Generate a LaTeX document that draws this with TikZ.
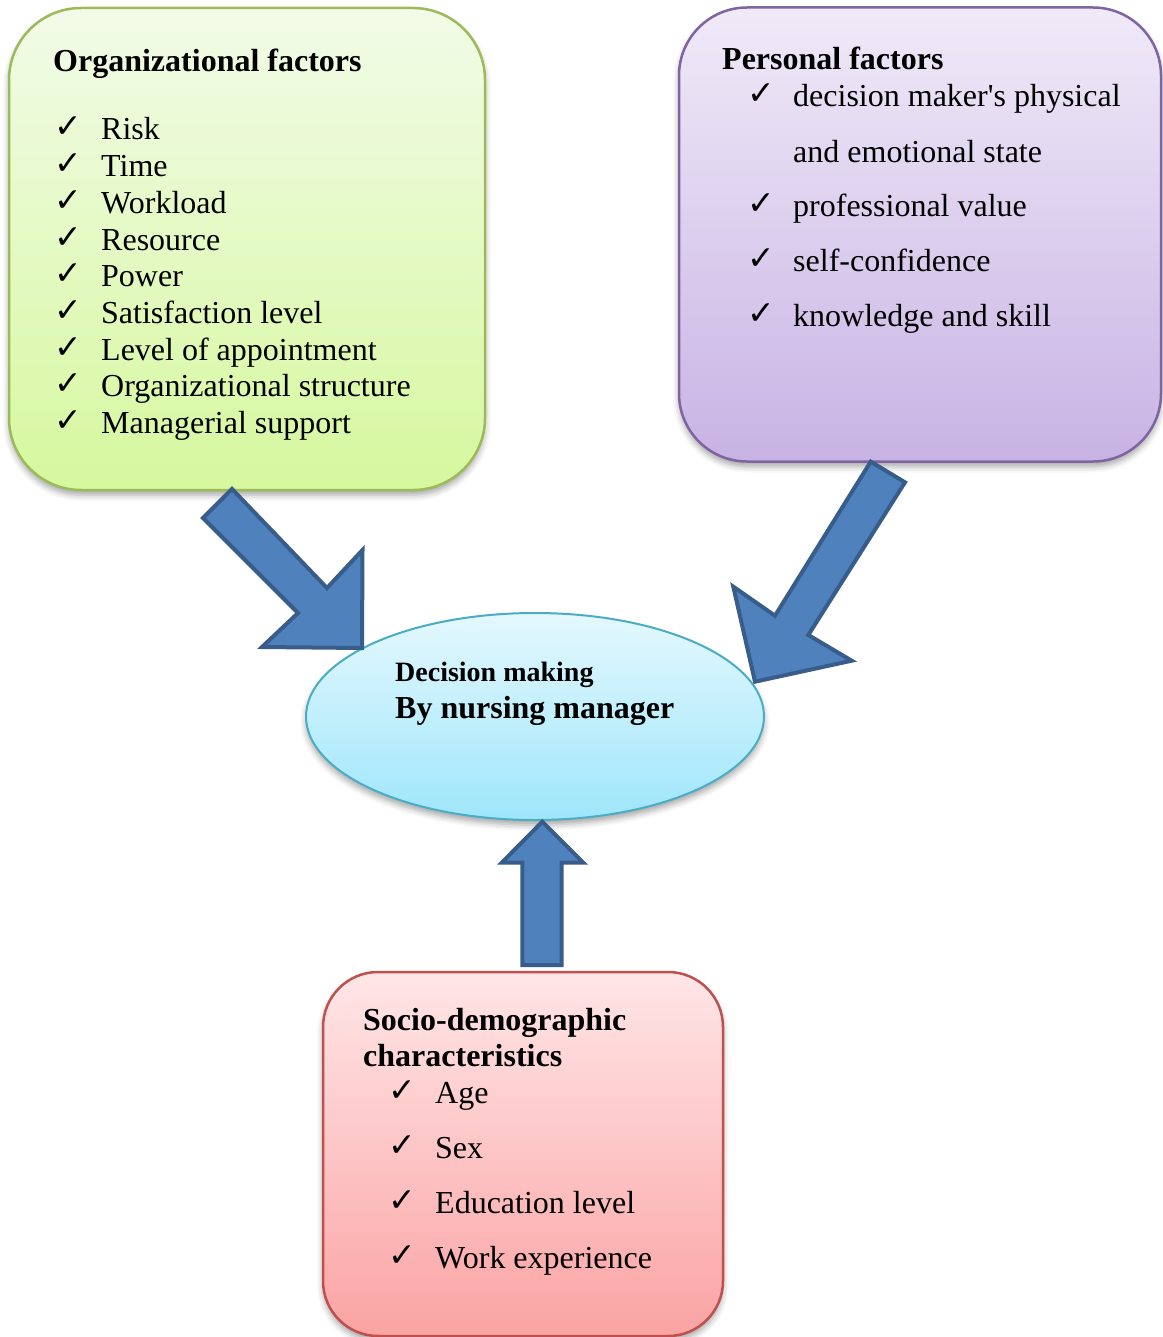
\documentclass[tikz,border=0pt]{standalone}
\usepackage{fontspec}
\setmainfont{Liberation Serif}
\newfontfamily\chkfont{DejaVu Sans}
\newfontfamily\rawq{Liberation Serif}[Ligatures=TeXOff]
\usetikzlibrary{shapes.geometric,shadows.blur}
\definecolor{grline}{HTML}{9BBB59}
\definecolor{grtop}{HTML}{F2FBE8}
\definecolor{grbot}{HTML}{D6F89E}
\definecolor{puline}{HTML}{8064A2}
\definecolor{putop}{HTML}{F0EAF8}
\definecolor{pubot}{HTML}{C8B3E4}
\definecolor{reline}{HTML}{C0504D}
\definecolor{retop}{HTML}{FFE6E7}
\definecolor{rebot}{HTML}{FBA3A3}
\definecolor{elline}{HTML}{4BACC6}
\definecolor{eltop}{HTML}{E4F8FE}
\definecolor{elbot}{HTML}{9FE6FB}
\definecolor{arfill}{HTML}{4F81BD}
\definecolor{arline}{HTML}{385D8A}
\tikzset{
  roundbox/.style={rectangle, rounded corners=#1, line width=2.5pt, inner sep=0pt,
    blur shadow={shadow xshift=0pt, shadow yshift=-5pt, shadow blur radius=6pt, shadow opacity=35}},
  txt/.style={anchor=base west, inner sep=0pt, font=\fontsize{32}{38}\selectfont},
  ttl/.style={anchor=base west, inner sep=0pt, font=\fontsize{32}{38}\selectfont\bfseries},
  chk/.style={anchor=base west, inner sep=0pt, font=\chkfont\fontsize{33}{36}\selectfont},
  barrow/.style={fill=arfill, draw=arline, line width=4pt, line join=miter},
}
\begin{document}
\begin{tikzpicture}[x=1pt,y=-1pt]
\useasboundingbox (0,0) rectangle (1162,1337);

% boxes
\node[roundbox=72pt, draw=grline, top color=grtop, bottom color=grbot,
  minimum width=476pt, minimum height=482pt] (org) at (247,249) {};
\node[roundbox=68pt, draw=puline, top color=putop, bottom color=pubot,
  minimum width=482pt, minimum height=454pt] (pers) at (920,234.5) {};
\node[roundbox=55pt, draw=reline, top color=retop, bottom color=rebot,
  minimum width=400pt, minimum height=364pt] (socio) at (523,1154) {};
\node[ellipse, draw=elline, line width=2pt, top color=eltop, bottom color=elbot,
  minimum width=458pt, minimum height=207pt, inner sep=0pt,
  blur shadow={shadow xshift=0pt, shadow yshift=-5pt, shadow blur radius=6pt, shadow opacity=35}] (dm) at (535,716.5) {};

% block arrows
\draw[barrow] (232,489) -- (327,588) -- (362.5,550) -- (362,648) -- (262,647) -- (298,613) -- (203,518) -- cycle;
\draw[barrow] (870.7,461.7) -- (905,482.3) -- (808.3,635) -- (851.7,660.7) -- (755,681.7) -- (733.3,586.7) -- (775,615.7) -- cycle;
\draw[barrow] (542.3,821.7) -- (583.3,862.7) -- (561.7,862.7) -- (561.7,965) -- (522.3,965) -- (522.3,862.7) -- (501.7,862.7) -- cycle;

% organizational factors
\node[ttl] (ot) at (53,71.7) {Organizational factors};
\foreach \i/\t in {0/Risk,1/Time,2/Workload,3/Resource,4/Power,5/Satisfaction level,6/Level of appointment,7/Organizational structure,8/Managerial support}{
  \node[chk] (oc\i) at (54,138+36.67*\i) {✓};
  \node[txt] (oi\i) at (101,140+36.67*\i) {\t};
}

% personal factors
\node[ttl] (pt) at (722,70) {Personal factors};
\node[chk] (pc0) at (747,104.7) {✓};
\node[txt] (pi0) at (793,106.7) {decision maker{\rawq'}s physical};
\node[txt] (pi1) at (793,162.3) {and emotional state};
\node[chk] (pc2) at (747,214.7) {✓};
\node[txt] (pi2) at (793,216.7) {professional value};
\node[chk] (pc3) at (747,269.7) {✓};
\node[txt] (pi3) at (793,271.7) {self-confidence};
\node[chk] (pc4) at (747,324.7) {✓};
\node[txt] (pi4) at (793,326.7) {knowledge and skill};

% socio-demographic
\node[ttl] (st1) at (363,1030.7) {Socio-demographic};
\node[ttl] (st2) at (363,1066.7) {characteristics};
\foreach \i/\t in {0/Age,1/Sex,2/Education level,3/Work experience}{
  \node[chk] (sc\i) at (388,1101.3+55*\i) {✓};
  \node[txt] (si\i) at (435,1103.3+55*\i) {\t};
}

% decision making
\node[anchor=base west, inner sep=0pt, font=\fontsize{28}{32}\selectfont\bfseries] (d1) at (395,681.7) {Decision making};
\node[ttl] (d2) at (395,718.3) {By nursing manager};
\end{tikzpicture}
\end{document}
